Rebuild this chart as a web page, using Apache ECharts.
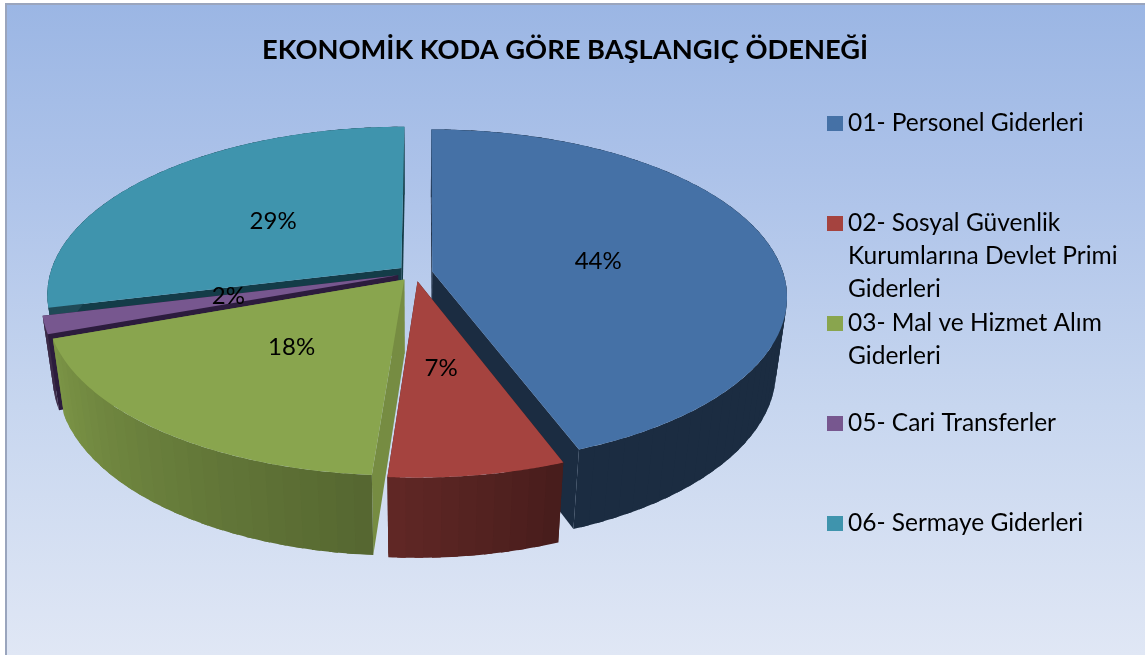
<!DOCTYPE html>
<html>
<head>
<meta charset="utf-8">
<style>
  html, body { margin: 0; padding: 0; background: #fff; }
  #chart { width: 1145px; height: 655px; }
</style>
<script src="https://cdn.jsdelivr.net/npm/echarts@6/dist/echarts.min.js"></script>
</head>
<body>
<div id="chart"></div>
<script>
var titleText = "EKONOMİK KODA GÖRE BAŞLANGIÇ ÖDENEĞİ";
var categories = [
  "01- Personel Giderleri",
  "02- Sosyal Güvenlik\nKurumlarına Devlet Primi\nGiderleri",
  "03- Mal ve Hizmet Alım\nGiderleri",
  "05- Cari Transferler",
  "06- Sermaye Giderleri"
];
var values = [44.2, 6.9, 18.4, 1.7, 28.8];

var topColors = ["#4571a6", "#a5433f", "#89a54e", "#77578f", "#3f94ad"];
var cutColors = ["#1b2c41", "#4a1d1b", "#768c42", "#2c1c3d", "#143c48"];
// wall brightness at the start and end of each slice
var wallShades = [[0.39, 0.39], [0.43, 0.59], [0.62, 0.9], [0.5, 0.5], [0.5, 0.5]];
var drawOrder = [4, 3, 2, 0, 1];
var legendTops = [107, 141, 274, 407, 507];
var legendBlankLines = [0, 2, 1, 0, 0];
var labelNudge = [[-4, 4], [-4, -2], [2, -3], [3, -3], [2, 1]];

// projection of the tilted pie
var cx = 415, cy = 273;
var a = 351, b = 164, persp = 0.1515;
var shear = 1.5;
var depth = 76, shrink = 0.03;
var explode = 0.05;
var labelRadius = 0.5;

var total = values.reduce(function (s, v) { return s + v; }, 0);

function project(u, v, z) {
  var w = 1 - persp * v + shrink * z;
  return [cx + (a * u - shear * v) / w, cy + (b * v + depth * z) / w];
}

function shadeColor(hex, f) {
  var n = parseInt(hex.slice(1), 16);
  var r = Math.round(((n >> 16) & 255) * f);
  var g = Math.round(((n >> 8) & 255) * f);
  var bl = Math.round((n & 255) * f);
  return "rgb(" + r + "," + g + "," + bl + ")";
}

function makeRenderItem(idx) {
  return function (params, api) {
    var before = 0;
    for (var i = 0; i < idx; i++) before += values[i];
    var val = api.value(0);
    var t0 = (before / total) * Math.PI * 2;
    var t1 = ((before + val) / total) * Math.PI * 2;
    var mid = (t0 + t1) / 2;
    var ox = explode * Math.sin(mid);
    var oy = -explode * Math.cos(mid);
    var order = drawOrder.indexOf(idx) * 10 + 1;
    var steps = Math.max(3, Math.round(((t1 - t0) * 180) / Math.PI / 2.5));
    var children = [];

    function edge(t, z) {
      return project(ox + Math.sin(t), oy - Math.cos(t), z);
    }
    function poly(points, fill, z2) {
      children.push({
        type: "polygon",
        z2: z2,
        shape: { points: points },
        style: { fill: fill }
      });
    }

    // cut faces
    var apexTop = project(ox, oy, 0);
    var apexBottom = project(ox, oy, 1);
    poly([apexTop, edge(t0, 0), edge(t0, 1), apexBottom], cutColors[idx], order);
    poly([apexTop, edge(t1, 0), edge(t1, 1), apexBottom], cutColors[idx], order);

    // outer wall, in bands that overlap the next one so no seams show
    for (var s = 0; s < steps; s++) {
      var ta = t0 + ((t1 - t0) * s) / steps;
      var tb = t0 + ((t1 - t0) * Math.min(steps, s + 1.5)) / steps;
      var f = wallShades[idx][0] + ((wallShades[idx][1] - wallShades[idx][0]) * (s + 0.5)) / steps;
      var band = [];
      for (var q = 0; q <= 4; q++) band.push(edge(ta + ((tb - ta) * q) / 4, 0));
      for (q = 4; q >= 0; q--) band.push(edge(ta + ((tb - ta) * q) / 4, 1));
      poly(band, shadeColor(topColors[idx], f), order + 1 + s * 0.01);
    }

    // top face
    var topPts = [apexTop];
    for (var k = 0; k <= 80; k++) topPts.push(edge(t0 + ((t1 - t0) * k) / 80, 0));
    poly(topPts, topColors[idx], order + 5);

    // percent label
    var lp = project(ox + labelRadius * Math.sin(mid), oy - labelRadius * Math.cos(mid), 0);
    children.push({
      type: "text",
      z2: 100,
      style: {
        text: Math.round((val / total) * 100) + "%",
        x: lp[0] + labelNudge[idx][0],
        y: lp[1] + labelNudge[idx][1],
        fill: "#000",
        font: "24px Lato",
        align: "center",
        verticalAlign: "middle"
      }
    });
    return { type: "group", children: children };
  };
}

var chart = echarts.init(document.getElementById("chart"));

var option = {
  animation: false,
  backgroundColor: "#fff",
  title: {
    text: titleText,
    left: 257,
    top: 32,
    textStyle: { fontFamily: "Lato", fontSize: 27.3, fontWeight: "bold", color: "#000" }
  },
  legend: categories.map(function (name, i) {
    return {
      data: [name],
      left: 827,
      top: legendTops[i],
      icon: "rect",
      itemWidth: 16,
      itemHeight: 15,
      selectedMode: false,
      padding: 0,
      formatter: function (n) {
        return "\n".repeat(legendBlankLines[i]) + n;
      },
      textStyle: { fontFamily: "Lato", fontSize: 24.5, lineHeight: 33, color: "#000" }
    };
  }),
  graphic: [
    {
      type: "rect",
      z: -10,
      shape: { x: 6, y: 4, width: 1160, height: 670 },
      style: {
        stroke: "#9aa5bd",
        lineWidth: 2,
        fill: new echarts.graphic.LinearGradient(0, 0, 0, 1, [
          { offset: 0, color: "#9bb6e4" },
          { offset: 0.25, color: "#acc2e9" },
          { offset: 0.6, color: "#c7d6ef" },
          { offset: 0.97, color: "#e0e7f5" },
          { offset: 1, color: "#e0e7f5" }
        ])
      }
    }
  ],
  series: categories.map(function (name, i) {
    return {
      type: "custom",
      name: name,
      coordinateSystem: "none",
      itemStyle: { color: topColors[i] },
      data: [[values[i]]],
      renderItem: makeRenderItem(i)
    };
  })
};

chart.setOption(option);
</script>
</body>
</html>
